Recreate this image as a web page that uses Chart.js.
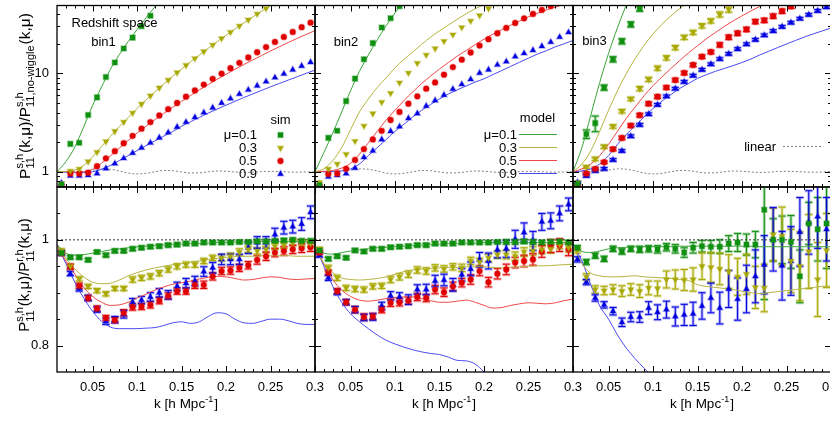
<!DOCTYPE html>
<html>
<head>
<meta charset="utf-8">
<script src="https://cdn.jsdelivr.net/npm/chart.js@4.4.1/dist/chart.umd.min.js"></script>
<style>
html, body { margin: 0; padding: 0; background: #fff; overflow: hidden; width: 830px; height: 421px; }
#fig { position: relative; width: 830px; height: 421px; overflow: hidden; }
#fig canvas { position: absolute; left: 0; top: 0; }
</style>
</head>
<body>
<div id="fig">
  <canvas id="t1" width="840" height="421"></canvas>
  <canvas id="t2" width="840" height="421"></canvas>
  <canvas id="t3" width="840" height="421"></canvas>
  <canvas id="b1" width="840" height="421"></canvas>
  <canvas id="b2" width="840" height="421"></canvas>
  <canvas id="b3" width="840" height="421"></canvas>
</div>
<script>
// k grids
var kSim = [0.015,0.025,0.035,0.045,0.055,0.065,0.075,0.085,0.095,0.105,0.115,0.125,0.135,0.145,0.155,0.165,0.175,0.185,0.195,0.205,0.215,0.225,0.235,0.245,0.255,0.265,0.275,0.285,0.295];
var kModel = [0.01,0.02,0.03,0.04,0.05,0.06,0.07,0.08,0.09,0.1,0.11,0.12,0.13,0.14,0.15,0.16,0.17,0.18,0.19,0.2,0.21,0.22,0.23,0.24,0.25,0.26,0.27,0.28,0.29,0.3];
var unityK = [0.01, 0.3];
var unityVal = [1, 1];

// tick labels
var xTickVals = [0.05, 0.1, 0.15, 0.2, 0.25, 0.3];
var xTickText = ['0.05', '0.1', '0.15', '0.2', '0.25', '0.3'];
var xMinorTicks = [0.02,0.03,0.04,0.06,0.07,0.08,0.09,0.11,0.12,0.13,0.14,0.16,0.17,0.18,0.19,0.21,0.22,0.23,0.24,0.26,0.27,0.28,0.29];
var logTickVals = [1, 10];
var logTickText = ['1', '10'];
var logMinorTicks = [0.8,0.9,2,3,4,5,6,7,8,9,20,30,40];
var ratioTickVals = [0.8, 1];
var ratioTickText = ['0.8', '1'];
var ratioMinorTicks = [0.85, 0.9, 0.95, 1.05];
var muLabels = ['\u03bc=0.1', '0.3', '0.5', '0.9'];

// linear / no-wiggle (top panels)
var linearRatio = [1.0,1.0,1.0,1.01,1.04,1.07,1.06,1.02,0.97,0.95,0.965,1.0,1.03,1.025,0.995,0.972,0.975,1.0,1.018,1.012,0.995,0.985,0.99,1.005,1.01,1.005,0.995,0.99,0.995,1.002];

// ---- top, bin1 ----
var s1_01 = [0.74,1.92,1.97,3.78,5.7,9.2,12.9,17.9,23.1,30.1,38.6];
var m1_01 = [1.0,1.27,1.78,2.86,4.71,7.26,11.0,15.5,21.1,27.9,36.6,47.5,60];
var s1_03 = [0.76,1.02,1.07,1.27,1.58,2.03,2.58,3.2,3.97,4.88,5.92,7.14,8.57,10.2,12.1,14.2,16.7,19.5,22.7,26.3,30.4,35.1,40.2,45.8,52.2];
var m1_03 = [1.0,1.01,1.04,1.16,1.42,1.8,2.29,2.88,3.56,4.4,5.38,6.5,7.82,9.35,11.1,13.1,15.4,18.0,21.0,24.4,28.2,32.6,37.5,42.9,48.9,55];
var s1_05 = [0.73,0.96,0.96,0.98,1.14,1.37,1.62,1.95,2.32,2.74,3.2,3.73,4.33,5.0,5.8,6.7,7.7,8.8,9.95,11.3,12.8,14.5,16.4,18.5,20.9,23.5,26.4,29.5,32.8];
var m1_05 = [1.0,1.0,0.99,1.0,1.06,1.22,1.45,1.74,2.08,2.47,2.9,3.38,3.92,4.52,5.2,5.95,6.8,7.7,8.7,9.8,11.0,12.3,13.7,15.2,16.9,18.7,20.6,22.7,24.9,27.2];
var s1_09 = [0.77,0.91,0.91,0.92,0.96,1.08,1.21,1.37,1.55,1.75,1.97,2.22,2.5,2.85,3.2,3.58,4.0,4.48,5.0,5.55,6.15,6.8,7.5,8.25,9.05,9.9,10.9,11.9,13.0];
var m1_09 = [1.0,0.99,0.98,0.98,1.0,1.06,1.16,1.3,1.46,1.64,1.84,2.06,2.3,2.56,2.9,3.22,3.57,3.95,4.34,4.75,5.2,5.68,6.18,6.72,7.3,7.9,8.55,9.25,10.0,10.8];

// ---- top, bin2 ----
var s2_01 = [0.73,2.21,2.61,5.23,8.84,13.9,20.3,29.3,36.3,48.1];
var m2_01 = [1.0,1.57,2.48,4.06,6.66,10.5,15.4,22.0,30.5,41.3,54];
var s2_03 = [0.78,1.07,1.2,1.51,2.05,2.93,3.91,5.1,6.3,8.04,10.1,12.7,15.4,17.9,21.3,24.8,29.3,34.2,38.9,45.6,52];
var m2_03 = [1.0,1.07,1.3,1.76,2.68,4.06,5.5,7.2,9.0,11.4,13.9,16.5,19.8,23.4,27.1,31.0,35.6,40.4,45.3,50.3];
var s2_05 = [0.73,0.95,0.96,1.07,1.32,1.7,2.13,2.61,3.36,4.06,4.92,5.85,7.0,8.1,9.7,11.6,13.8,16.3,19.2,22.3,25.6,29.0,32.6,36.3,40.2,44.2,48.3];
var m2_05 = [1.0,1.01,1.03,1.09,1.22,1.51,1.97,2.58,3.36,4.22,5.3,6.5,7.9,9.4,11.1,12.9,15.0,17.1,19.6,22.3,25.0,27.8,30.9,34.1,37.6,40.9,44.1,47.1,50.2];
var s2_09 = [0.75,0.89,0.92,0.96,1.09,1.4,1.63,2.13,2.58,2.88,3.49,3.91,4.66,5.3,6.03,6.93,7.75,8.69,10.1,10.9,12.2,13.2,14.8,16.0,17.2,18.9,20.8,23.4,26.1];
var m2_09 = [1.0,1.0,1.01,1.02,1.07,1.2,1.46,1.76,2.13,2.58,3.04,3.62,4.22,4.84,5.5,6.17,6.81,7.46,8.17,8.81,9.73,10.7,11.8,13.0,14.3,15.7,17.0,18.6,20.0,21.6];

// ---- top, bin3 (relative errors) ----
var s3_01 = [0.75,2.42,3.12,7.18,13.9,21.2,31.5,45.5];
var e3_01 = [0.03,0.1,0.18,0.06,0.06,0.06,0.06,0.06];
var m3_01 = [1.0,1.76,3.76,8.05,16.0,29.2,50];
var s3_03 = [0.78,1.12,1.35,1.8,2.89,4.12,5.5,7.0,8.69,11.3,14.4,18.3,23.3,26.1,30.5,34.2,39.8,44.6];
var e3_03 = [0.02,0.03,0.04,0.04,0.04,0.04,0.04,0.05,0.05,0.05,0.05,0.05,0.05,0.05,0.05,0.05,0.06,0.06];
var m3_03 = [1.0,1.2,1.63,2.58,4.22,6.66,9.96,14.2,19.3,25.2,31.6,38.3,45.6,53];
var s3_05 = [0.71,0.96,1.07,1.25,1.7,2.21,2.95,3.76,4.92,5.8,7.18,8.56,10.1,12.2,14.8,16.5,19.5,23.3,25.6,28.0,33.6,34.6,38.2,42.9,48.1];
var e3_05 = [0.02,0.03,0.03,0.03,0.04,0.04,0.04,0.04,0.04,0.04,0.04,0.04,0.04,0.04,0.04,0.04,0.05,0.05,0.05,0.05,0.05,0.05,0.05,0.05,0.05];
var m3_05 = [1.0,1.07,1.2,1.46,1.9,2.58,3.5,4.56,5.94,7.5,9.2,11.2,13.5,16.2,19.1,22.5,26.0,30.0,34.1,38.5,43.2,48.0,53];
var s3_09 = [0.78,0.91,1.02,1.07,1.32,1.63,2.3,3.0,3.85,4.8,5.85,7.0,8.2,9.5,10.9,12.4,14.0,15.8,17.7,19.8,22.0,24.4,27.0,29.8,32.8,36.0,39.5,43.2,47.2];
var e3_09 = [0.02,0.03,0.03,0.03,0.03,0.03,0.03,0.03,0.03,0.03,0.03,0.03,0.03,0.03,0.03,0.03,0.03,0.03,0.03,0.03,0.03,0.03,0.03,0.03,0.03,0.03,0.03,0.03,0.03];
var m3_09 = [1.0,1.02,1.07,1.2,1.46,1.9,2.39,2.95,3.62,4.39,5.22,6.08,7.03,7.9,8.9,9.7,10.5,11.2,12.0,12.9,14.0,15.4,16.8,18.3,19.9,21.6,23.4,25.2,27.0,28.9];

// ---- bottom, bin1 (ratio to real space) ----
var r1_01 = [0.975,0.967,0.967,0.962,0.977,0.971,0.979,0.979,0.983,0.985,0.987,0.988,0.99,0.991,0.993,0.993,0.995,0.995,0.995,0.995,0.996,0.996,0.997,0.997,0.998,0.999,1.0,0.998,0.998];
var re1_01 = [0.003,0.003,0.003,0.003,0.003,0.003,0.003,0.003,0.003,0.003,0.003,0.003,0.003,0.003,0.003,0.003,0.003,0.003,0.003,0.003,0.003,0.003,0.003,0.003,0.003,0.003,0.003,0.003,0.003];
var rm1_01 = [0.991,0.975,0.971,0.972,0.975,0.978,0.981,0.983,0.985,0.987,0.988,0.989,0.99,0.991,0.992,0.993,0.993,0.994,0.995,0.995,0.996,0.996,0.996,0.997,0.997,0.997,0.997,0.997,0.997,0.997];
var r1_03 = [0.979,0.95,0.926,0.912,0.904,0.898,0.908,0.908,0.925,0.928,0.931,0.937,0.944,0.95,0.953,0.953,0.96,0.966,0.966,0.969,0.977,0.982,0.979,0.982,0.988,0.99,0.995,0.994,0.993];
var re1_03 = [0.004,0.004,0.004,0.004,0.004,0.004,0.004,0.004,0.005,0.005,0.005,0.005,0.005,0.005,0.005,0.005,0.005,0.005,0.006,0.006,0.006,0.006,0.006,0.006,0.006,0.006,0.006,0.006,0.006];
var rm1_03 = [0.991,0.965,0.945,0.93,0.92,0.917,0.918,0.924,0.932,0.938,0.943,0.947,0.95,0.953,0.955,0.958,0.96,0.963,0.965,0.967,0.968,0.969,0.969,0.97,0.97,0.97,0.97,0.969,0.969,0.969];
var r1_05 = [0.975,0.949,0.913,0.89,0.87,0.852,0.848,0.862,0.873,0.874,0.877,0.885,0.894,0.903,0.903,0.915,0.915,0.931,0.941,0.942,0.947,0.952,0.962,0.969,0.976,0.979,0.982,0.984,0.986];
var re1_05 = [0.004,0.005,0.005,0.005,0.005,0.005,0.005,0.006,0.006,0.006,0.006,0.006,0.006,0.006,0.006,0.007,0.007,0.007,0.007,0.007,0.007,0.007,0.008,0.008,0.008,0.008,0.008,0.008,0.008];
var rm1_05 = [0.991,0.96,0.935,0.91,0.893,0.882,0.876,0.877,0.882,0.89,0.897,0.905,0.911,0.916,0.919,0.922,0.926,0.929,0.931,0.93,0.927,0.924,0.925,0.928,0.93,0.929,0.926,0.925,0.926,0.927];
var r1_09 = [0.975,0.936,0.908,0.89,0.868,0.846,0.849,0.859,0.882,0.886,0.892,0.9,0.896,0.912,0.918,0.922,0.94,0.947,0.963,0.963,0.963,0.985,0.995,0.995,1.01,1.023,1.025,1.03,1.052];
var re1_09 = [0.004,0.004,0.005,0.005,0.005,0.006,0.006,0.007,0.007,0.007,0.008,0.008,0.008,0.008,0.009,0.009,0.009,0.01,0.01,0.01,0.01,0.011,0.011,0.011,0.012,0.012,0.012,0.012,0.012];
var rm1_09 = [0.991,0.955,0.92,0.89,0.865,0.846,0.835,0.832,0.832,0.832,0.833,0.834,0.838,0.843,0.845,0.842,0.845,0.855,0.862,0.86,0.85,0.843,0.842,0.846,0.85,0.85,0.847,0.842,0.84,0.84];

// ---- bottom, bin2 ----
var r2_01 = [0.98,0.964,0.969,0.966,0.98,0.978,0.983,0.983,0.986,0.987,0.988,0.99,0.99,0.993,0.993,0.993,0.995,0.995,0.995,0.995,0.996,0.996,0.996,0.997,0.996,0.995,0.996,0.997,0.995];
var re2_01 = [0.003,0.003,0.003,0.003,0.003,0.003,0.003,0.003,0.003,0.003,0.003,0.003,0.003,0.003,0.003,0.003,0.003,0.003,0.003,0.003,0.003,0.004,0.004,0.004,0.004,0.004,0.004,0.004,0.004];
var rm2_01 = [0.988,0.975,0.973,0.976,0.979,0.981,0.983,0.985,0.986,0.987,0.988,0.989,0.99,0.991,0.992,0.993,0.993,0.994,0.994,0.995,0.995,0.995,0.995,0.995,0.995,0.995,0.995,0.995,0.995,0.995];
var r2_03 = [0.982,0.947,0.928,0.909,0.907,0.906,0.912,0.913,0.925,0.93,0.935,0.943,0.941,0.947,0.945,0.949,0.947,0.96,0.958,0.966,0.972,0.972,0.969,0.977,0.979,0.982,0.983,0.991,0.985];
var re2_03 = [0.004,0.005,0.005,0.005,0.005,0.005,0.005,0.005,0.006,0.006,0.006,0.006,0.006,0.006,0.006,0.006,0.007,0.007,0.007,0.007,0.007,0.008,0.008,0.008,0.008,0.008,0.008,0.008,0.008];
var rm2_03 = [0.988,0.955,0.938,0.928,0.925,0.924,0.925,0.927,0.93,0.935,0.94,0.943,0.945,0.946,0.947,0.948,0.948,0.949,0.949,0.949,0.948,0.947,0.948,0.949,0.95,0.951,0.951,0.952,0.953,0.954];
var r2_05 = [0.976,0.938,0.903,0.882,0.868,0.854,0.855,0.868,0.881,0.882,0.885,0.892,0.89,0.906,0.901,0.912,0.919,0.925,0.941,0.92,0.936,0.944,0.957,0.96,0.963,0.978,0.988,0.99,0.982];
var re2_05 = [0.004,0.005,0.005,0.005,0.006,0.006,0.006,0.006,0.007,0.007,0.007,0.007,0.007,0.008,0.008,0.008,0.008,0.009,0.009,0.009,0.01,0.01,0.01,0.011,0.011,0.011,0.012,0.012,0.012];
var rm2_05 = [0.988,0.955,0.925,0.905,0.893,0.886,0.884,0.886,0.889,0.891,0.892,0.892,0.889,0.885,0.882,0.882,0.884,0.886,0.882,0.876,0.871,0.872,0.876,0.879,0.881,0.88,0.879,0.881,0.885,0.888];
var r2_09 = [0.971,0.928,0.901,0.882,0.868,0.853,0.854,0.875,0.894,0.892,0.887,0.906,0.906,0.922,0.924,0.915,0.934,0.945,0.962,0.96,0.981,0.983,1.001,1.014,0.998,1.034,1.036,1.05,1.067];
var re2_09 = [0.004,0.005,0.005,0.005,0.006,0.006,0.006,0.007,0.008,0.008,0.009,0.009,0.01,0.011,0.011,0.012,0.012,0.013,0.014,0.015,0.015,0.016,0.017,0.018,0.018,0.016,0.015,0.014,0.012];
var rm2_09 = [0.988,0.95,0.912,0.882,0.86,0.845,0.832,0.82,0.81,0.803,0.797,0.792,0.788,0.785,0.783,0.778,0.772,0.771,0.765,0.75,0.73];

// ---- bottom, bin3 ----
var r3_01 = [0.985,0.958,0.97,0.964,0.983,0.978,0.983,0.982,0.983,0.982,0.986,0.983,0.976,0.985,0.988,0.987,0.987,0.993,0.995,0.991,0.991,1.057,1.0,1.0,0.996,0.931,1.031,1.02,1.031];
var re3_01 = [0.004,0.005,0.005,0.005,0.005,0.005,0.005,0.006,0.006,0.007,0.007,0.008,0.009,0.01,0.011,0.012,0.013,0.015,0.017,0.02,0.025,0.17,0.04,0.045,0.05,0.05,0.04,0.06,0.085];
var rm3_01 = [0.988,0.978,0.976,0.979,0.983,0.985,0.986,0.987,0.987,0.987,0.987,0.987,0.988,0.988,0.988,0.988,0.988,0.988,0.988,0.988,0.988,0.987,0.987,0.987,0.987,0.987,0.987,0.987,0.987,0.987];
var r3_03 = [0.98,0.93,0.906,0.904,0.906,0.903,0.906,0.903,0.909,0.908,0.925,0.925,0.924,0.925,0.95,0.948,0.945,0.94,0.93,0.935,0.91,0.909,1.01,1.007,0.96,0.95,0.978,0.925,0.98];
var re3_03 = [0.005,0.006,0.007,0.008,0.009,0.01,0.011,0.012,0.013,0.014,0.016,0.018,0.02,0.022,0.025,0.028,0.03,0.032,0.035,0.038,0.04,0.045,0.05,0.055,0.06,0.065,0.07,0.07,0.07];
var rm3_03 = [0.988,0.955,0.937,0.932,0.93,0.93,0.931,0.932,0.93,0.929,0.928,0.927,0.925,0.923,0.915,0.912,0.91,0.908,0.906,0.903,0.9,0.898,0.9,0.902,0.904,0.906,0.908,0.91,0.912,0.913];
var r3_09 = [0.963,0.92,0.89,0.877,0.865,0.844,0.854,0.854,0.871,0.863,0.868,0.855,0.858,0.86,0.875,0.89,0.871,0.907,0.888,0.907,0.931,0.953,1.001,0.951,0.96,1.015,1.033,1.044,1.02];
var re3_09 = [0.005,0.005,0.006,0.006,0.007,0.008,0.009,0.01,0.012,0.014,0.016,0.018,0.02,0.022,0.025,0.028,0.03,0.035,0.04,0.045,0.05,0.055,0.06,0.065,0.065,0.065,0.06,0.06,0.06];
var rm3_09 = [0.99,0.96,0.915,0.875,0.85,0.82,0.795,0.775,0.757,0.74];

// ---------------- styles & layout ----------------
var FONT = '"Liberation Sans", Arial, Helvetica, sans-serif';
var W = 840, H = 421;
var cols = [{l: 57, r: 315}, {l: 315, r: 573}, {l: 573, r: 831}];
var rowTop = {t: 1, b: 187}, rowBot = {t: 187, b: 372};

var mu = [
  {color: '#109010', pale: 'rgba(16,144,16,0.35)', line: '#3aa53a', style: 'rect', r: 3.6, rot: 0},
  {color: '#a8a800', pale: 'rgba(168,168,0,0.35)', line: '#b4b440', style: 'triangle', r: 3.4, rot: 180},
  {color: '#e00000', pale: 'rgba(224,0,0,0.3)', line: '#ee4848', style: 'circle', r: 2.9, rot: 0},
  {color: '#0000e0', pale: 'rgba(0,0,224,0.3)', line: '#4a4af2', style: 'triangle', r: 3.4, rot: 0}
];

function pts(ks, vs) {
  return vs.map(function (v, i) { return {x: ks[i], y: v}; });
}

function simSet(vals, s, err, rel) {
  return {
    data: pts(kSim, vals), showLine: false,
    pointStyle: s.style, pointRotation: s.rot, pointRadius: s.r,
    pointBackgroundColor: s.color, pointBorderColor: s.pale, pointBorderWidth: 1.5,
    err: err, relErr: !!rel, errColor: s.color, errPale: s.pale
  };
}

function modelSet(vals, s) {
  return {
    data: pts(kModel, vals), showLine: true, pointRadius: 0,
    borderColor: s.line, borderWidth: 1, cubicInterpolationMode: 'monotone'
  };
}

function dashSet(ks, vals, color) {
  return {
    data: pts(ks, vals), showLine: true, pointRadius: 0,
    borderColor: color, borderWidth: 1, borderDash: [2, 2], cubicInterpolationMode: 'monotone'
  };
}

var yTopLabel = ['P', {sup: 's,h', sub: '11'}, '(k,\u03bc)/P', {sup: 's,h', sub: '11,no-wiggle'}, '(k,\u03bc)'];
var yBotLabel = ['P', {sup: 's,h', sub: '11'}, '(k,\u03bc)/P', {sup: 'r,h', sub: '11'}, '(k,\u03bc)'];
var xLabel = ['k [h Mpc', {sup: '-1'}, ']'];

function drawRich(ctx, parts, cx, cy, size, rot) {
  var small = Math.round(size * 0.7);
  var big = size + 'px ' + FONT, sm = small + 'px ' + FONT;
  function widthOf(p) {
    if (typeof p === 'string') { ctx.font = big; return ctx.measureText(p).width; }
    ctx.font = sm;
    return Math.max(p.sup ? ctx.measureText(p.sup).width : 0, p.sub ? ctx.measureText(p.sub).width : 0) + 1;
  }
  ctx.save();
  ctx.translate(cx, cy);
  ctx.rotate(rot || 0);
  var total = 0;
  parts.forEach(function (p) { total += widthOf(p); });
  var x = -total / 2, base = size * 0.36;
  ctx.fillStyle = '#000';
  ctx.textBaseline = 'alphabetic';
  ctx.textAlign = 'left';
  parts.forEach(function (p) {
    var w = widthOf(p);
    if (typeof p === 'string') {
      ctx.font = big; ctx.fillText(p, x, base);
    } else {
      ctx.font = sm;
      if (p.sup) ctx.fillText(p.sup, x, base - size * 0.45);
      if (p.sub) ctx.fillText(p.sub, x, base + size * 0.3);
    }
    x += w;
  });
  ctx.restore();
}

function marker(ctx, s, x, y) {
  ctx.save();
  ctx.fillStyle = s.color; ctx.strokeStyle = s.pale; ctx.lineWidth = 1.5;
  ctx.beginPath();
  if (s.style === 'rect') {
    var h = s.r * Math.SQRT1_2;
    ctx.rect(x - h, y - h, 2 * h, 2 * h);
  } else if (s.style === 'circle') {
    ctx.arc(x, y, s.r, 0, Math.PI * 2);
  } else {
    var d = s.rot ? -1 : 1;
    ctx.moveTo(x, y - d * s.r);
    ctx.lineTo(x + s.r * 0.866, y + d * s.r * 0.5);
    ctx.lineTo(x - s.r * 0.866, y + d * s.r * 0.5);
    ctx.closePath();
  }
  ctx.fill(); ctx.stroke();
  ctx.restore();
}

function panelPlugin(extra, yTicks) {
  return {
    id: 'panel',
    beforeDatasetsDraw: function (chart) {
      var ctx = chart.ctx, a = chart.chartArea, xs = chart.scales.x, ys = chart.scales.y;
      ctx.save();
      ctx.beginPath();
      ctx.rect(a.left, a.top, a.right - a.left, a.bottom - a.top);
      ctx.clip();
      chart.data.datasets.forEach(function (ds) {
        if (!ds.err) return;
        ds.data.forEach(function (p, i) {
          var e = ds.err[i];
          if (p.y == null || e == null) return;
          var lo = ds.relErr ? p.y * (1 - e) : p.y - e;
          var hi = ds.relErr ? p.y * (1 + e) : p.y + e;
          var px = xs.getPixelForValue(p.x), y1 = ys.getPixelForValue(lo), y2 = ys.getPixelForValue(hi);
          [[ds.errPale, 3, 4], [ds.errColor, 1, 3.5]].forEach(function (st) {
            ctx.strokeStyle = st[0]; ctx.lineWidth = st[1];
            ctx.beginPath();
            ctx.moveTo(px, y1); ctx.lineTo(px, y2);
            ctx.moveTo(px - st[2], y1); ctx.lineTo(px + st[2], y1);
            ctx.moveTo(px - st[2], y2); ctx.lineTo(px + st[2], y2);
            ctx.stroke();
          });
        });
      });
      ctx.restore();
    },
    afterDraw: function (chart) {
      var ctx = chart.ctx, a = chart.chartArea, xs = chart.scales.x, ys = chart.scales.y;
      ctx.save();
      ctx.strokeStyle = '#000';
      ctx.lineWidth = 1;
      ctx.beginPath();
      function xt(vals, len) {
        vals.forEach(function (v) {
          var px = Math.round(xs.getPixelForValue(v)) + 0.5;
          ctx.moveTo(px, a.bottom); ctx.lineTo(px, a.bottom - len);
          ctx.moveTo(px, a.top); ctx.lineTo(px, a.top + len);
        });
      }
      function yt(vals, len) {
        vals.forEach(function (v) {
          var py = Math.round(ys.getPixelForValue(v)) + 0.5;
          ctx.moveTo(a.left, py); ctx.lineTo(a.left + len, py);
          ctx.moveTo(a.right, py); ctx.lineTo(a.right - len, py);
        });
      }
      xt(xTickVals, 6); xt(xMinorTicks, 3);
      yt(yTicks.major, 6); yt(yTicks.minor, 3);
      ctx.stroke();
      ctx.lineWidth = 1.3;
      ctx.strokeRect(a.left, a.top, a.right - a.left, a.bottom - a.top);

      ctx.fillStyle = '#000';
      ctx.textBaseline = 'middle';
      ctx.font = '13px ' + FONT;
      (extra.texts || []).forEach(function (t) {
        ctx.textAlign = t[3] || 'center';
        ctx.fillText(t[0], t[1], t[2]);
      });
      (extra.markers || []).forEach(function (m) { marker(ctx, m[0], m[1], m[2]); });
      // legend line samples: [x1, x2, y, colour, dash]
      (extra.samples || []).forEach(function (s) {
        ctx.save();
        ctx.strokeStyle = s[3]; ctx.lineWidth = 1;
        ctx.setLineDash(s[4] || []);
        ctx.beginPath(); ctx.moveTo(s[0], s[2]); ctx.lineTo(s[1], s[2]); ctx.stroke();
        ctx.restore();
      });
      (extra.rich || []).forEach(function (r) { drawRich(ctx, r[0], r[1], r[2], r[3], r[4]); });
      ctx.restore();
    }
  };
}

function panel(id, col, row, yCfg, sets, extra) {
  var showY = !!yCfg.showLabels, showX = !!extra.xLabels;
  var yAxisW = 40, xAxisH = 30;
  new Chart(document.getElementById(id), {
    type: 'scatter',
    data: {datasets: sets},
    options: {
      responsive: false, animation: false, events: [],
      layout: {padding: {left: col.l - (showY ? yAxisW : 0), right: W - col.r, top: row.t,
                         bottom: H - row.b - (showX ? xAxisH : 0)}},
      plugins: {legend: {display: false}, tooltip: {enabled: false}},
      scales: {
        x: {
          type: 'linear', min: 0.01, max: 0.3, display: showX,
          grid: {display: false, drawTicks: false}, border: {display: false},
          ticks: {autoSkip: false, maxRotation: 0, minRotation: 0, padding: 8, color: '#000',
                  font: {family: FONT, size: 13},
                  callback: function (v) { var i = xTickVals.indexOf(v); return i < 0 ? '' : xTickText[i]; }},
          afterBuildTicks: function (s) { s.ticks = xTickVals.map(function (v) { return {value: v}; }); },
          afterFit: function (s) { if (showX) { s.height = xAxisH; s.paddingLeft = 0; s.paddingRight = 0; } }
        },
        y: {
          type: yCfg.type, min: yCfg.min, max: yCfg.max, display: showY,
          grid: {display: false, drawTicks: false}, border: {display: false},
          ticks: {autoSkip: false, padding: 8, color: '#000', font: {family: FONT, size: 13},
                  callback: function (v) { var i = yCfg.vals.indexOf(v); return i < 0 ? '' : yCfg.text[i]; }},
          afterBuildTicks: function (s) { s.ticks = yCfg.vals.map(function (v) { return {value: v}; }); },
          afterFit: function (s) { if (showY) { s.width = yAxisW; s.paddingTop = 0; s.paddingBottom = 0; } }
        }
      }
    },
    plugins: [panelPlugin(extra, {major: yCfg.major, minor: yCfg.minor})]
  });
}

function topY(show) {
  return {type: 'logarithmic', min: 0.7, max: 49, vals: logTickVals, text: logTickText,
          major: logTickVals, minor: logMinorTicks, showLabels: show};
}
function botY(show) {
  return {type: 'linear', min: 0.75, max: 1.1, vals: ratioTickVals, text: ratioTickText,
          major: ratioTickVals, minor: ratioMinorTicks, showLabels: show};
}

var legendY = [135, 148, 161, 174];

// ---- top row ----
panel('t1', cols[0], rowTop, topY(true), [
  simSet(s1_01, mu[0]), simSet(s1_03, mu[1]), simSet(s1_05, mu[2]), simSet(s1_09, mu[3]),
  modelSet(m1_01, mu[0]), modelSet(m1_03, mu[1]), modelSet(m1_05, mu[2]), modelSet(m1_09, mu[3]),
  dashSet(kModel, linearRatio, '#808080')
], {
  texts: [['Redshift space', 114.5, 23], ['bin1', 103.5, 42], ['sim', 280.5, 120]]
    .concat(muLabels.map(function (t, i) { return [t, 257, legendY[i], 'right']; })),
  markers: mu.map(function (s, i) { return [s, 280.5, legendY[i]]; }),
  rich: [[yTopLabel, 24, 96, 15.5, -Math.PI / 2]]
});

panel('t2', cols[1], rowTop, topY(false), [
  simSet(s2_01, mu[0]), simSet(s2_03, mu[1]), simSet(s2_05, mu[2]), simSet(s2_09, mu[3]),
  modelSet(m2_01, mu[0]), modelSet(m2_03, mu[1]), modelSet(m2_05, mu[2]), modelSet(m2_09, mu[3]),
  dashSet(kModel, linearRatio, '#808080')
], {
  texts: [['bin2', 346, 42], ['model', 537.5, 118]]
    .concat(muLabels.map(function (t, i) { return [t, 517, legendY[i], 'right']; })),
  samples: mu.map(function (s, i) { return [519, 557, legendY[i] - 0.5, s.line]; })
});

panel('t3', cols[2], rowTop, topY(false), [
  simSet(s3_01, mu[0], e3_01, true), simSet(s3_03, mu[1], e3_03, true),
  simSet(s3_05, mu[2], e3_05, true), simSet(s3_09, mu[3], e3_09, true),
  modelSet(m3_01, mu[0]), modelSet(m3_03, mu[1]), modelSet(m3_05, mu[2]), modelSet(m3_09, mu[3]),
  dashSet(kModel, linearRatio, '#808080')
], {
  texts: [['bin3', 594.5, 41], ['linear', 776, 147, 'right']],
  samples: [[783, 821, 146.5, '#808080', [2, 2]]]
});

// ---- bottom row ----
panel('b1', cols[0], rowBot, botY(true), [
  simSet(r1_01, mu[0], re1_01), simSet(r1_03, mu[1], re1_03), simSet(r1_05, mu[2], re1_05), simSet(r1_09, mu[3], re1_09),
  modelSet(rm1_01, mu[0]), modelSet(rm1_03, mu[1]), modelSet(rm1_05, mu[2]), modelSet(rm1_09, mu[3]),
  dashSet(unityK, unityVal, '#333')
], {
  xLabels: true,
  rich: [[yBotLabel, 24, 275, 15, -Math.PI / 2], [xLabel, 186, 403, 13.5, 0]]
});

panel('b2', cols[1], rowBot, botY(false), [
  simSet(r2_01, mu[0], re2_01), simSet(r2_03, mu[1], re2_03), simSet(r2_05, mu[2], re2_05), simSet(r2_09, mu[3], re2_09),
  modelSet(rm2_01, mu[0]), modelSet(rm2_03, mu[1]), modelSet(rm2_05, mu[2]), modelSet(rm2_09, mu[3]),
  dashSet(unityK, unityVal, '#333')
], {
  xLabels: true,
  rich: [[xLabel, 444, 403, 13.5, 0]]
});

panel('b3', cols[2], rowBot, botY(false), [
  simSet(r3_01, mu[0], re3_01), simSet(r3_03, mu[1], re3_03), simSet(r3_09, mu[3], re3_09),
  modelSet(rm3_01, mu[0]), modelSet(rm3_03, mu[1]), modelSet(rm3_09, mu[3]),
  dashSet(unityK, unityVal, '#333')
], {
  xLabels: true,
  rich: [[xLabel, 702, 403, 13.5, 0]]
});
</script>
</body>
</html>
